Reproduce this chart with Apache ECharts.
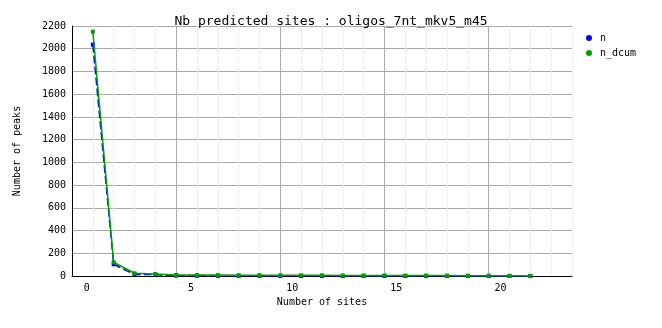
<!DOCTYPE html>
<html>
<head>
<meta charset="utf-8">
<script src="https://cdn.jsdelivr.net/npm/echarts@6/dist/echarts.min.js"></script>
<style>
html,body{margin:0;padding:0;background:#fff;}
#chart{width:662px;height:328px;}
</style>
</head>
<body>
<div id="chart"></div>
<script>
// ---- data ----
const titleText = 'Nb predicted sites : oligos_7nt_mkv5_m45';
const sites = [0, 1, 2, 3, 4, 5, 6, 7, 8, 9, 10, 11, 12, 13, 14, 15, 16, 17, 18, 19, 20, 21];
const nValues = [2036, 103, 14, 12, 3, 2, 1, 1, 1, 0, 0, 0, 0, 0, 0, 0, 0, 0, 0, 0, 0, 0];
const nDcumValues = [2150, 121, 24, 18, 9, 8, 8, 7, 7, 6, 6, 6, 5, 5, 5, 4, 4, 4, 3, 3, 2, 1];
const xTickLabels = [0, 5, 10, 15, 20];
const yTickLabels = [0, 200, 400, 600, 800, 1000, 1200, 1400, 1600, 1800, 2000, 2200];

const FONT = 'DejaVu Sans Mono';
const chart = echarts.init(document.getElementById('chart'), null, {renderer: 'canvas'});

function pairs(xs, ys) { return xs.map((x, i) => [x, ys[i]]); }

chart.setOption({
  animation: false,
  backgroundColor: '#ffffff',
  textStyle: {fontFamily: FONT},
  title: {
    text: titleText,
    left: 'center',
    top: 10,
    textStyle: {fontFamily: FONT, fontSize: 13, fontWeight: 'normal', color: '#000'}
  },
  legend: {
    orient: 'vertical',
    left: 581,
    top: 28,
    icon: 'circle',
    itemWidth: 6,
    itemHeight: 6,
    itemGap: 5,
    textStyle: {fontFamily: FONT, fontSize: 10, color: '#000', padding: [0, 0, 0, 3]},
    data: ['n', 'n_dcum']
  },
  grid: {left: 72, right: 90, top: 26, bottom: 52, containLabel: false},
  xAxis: [
    {
      type: 'value',
      min: -1,
      max: 23,
      interval: 1,
      name: 'Number of sites',
      nameLocation: 'middle',
      nameGap: 21,
      nameTextStyle: {fontFamily: FONT, fontSize: 10, color: '#000'},
      axisLine: {show: true, onZero: false, lineStyle: {color: '#000', width: 1}},
      axisTick: {show: false},
      axisLabel: {
        customValues: xTickLabels,
        align: 'right',
        margin: 7,
        padding: [0, 3, 0, 0],
        fontFamily: FONT, fontSize: 10, color: '#000'
      },
      splitLine: {show: true, lineStyle: {color: '#efefef', width: 1}}
    },
    {
      type: 'value',
      min: 0,
      max: 24,
      interval: 5,
      position: 'bottom',
      axisLine: {show: false},
      axisTick: {show: false},
      axisLabel: {show: false},
      splitLine: {show: true, showMinLine: false, showMaxLine: false, lineStyle: {color: '#aaaaaa', width: 1}}
    }
  ],
  yAxis: {
    type: 'value',
    min: 0,
    max: 2200,
    interval: 200,
    name: 'Number of peaks',
    nameLocation: 'middle',
    nameGap: 50,
    nameTextStyle: {fontFamily: FONT, fontSize: 10, color: '#000'},
    axisLine: {show: true, onZero: false, lineStyle: {color: '#000', width: 1}},
    axisTick: {show: false},
    axisLabel: {
      margin: 6,
      fontFamily: FONT, fontSize: 10, color: '#000',
      formatter: v => (yTickLabels.indexOf(v) >= 0 ? String(v) : '')
    },
    splitLine: {show: true, lineStyle: {color: '#aaaaaa', width: 1}}
  },
  series: [
    {
      name: 'n',
      type: 'line',
      xAxisIndex: 0,
      data: pairs(sites, nValues),
      symbol: 'rect',
      symbolSize: 4,
      itemStyle: {color: '#0000ff'},
      lineStyle: {color: '#0000ff', width: 1.5, type: [8, 3]},
      z: 3
    },
    {
      name: 'n_dcum',
      type: 'line',
      xAxisIndex: 0,
      data: pairs(sites, nDcumValues),
      symbol: 'rect',
      symbolSize: 4,
      itemStyle: {color: '#00a000'},
      lineStyle: {color: '#00a000', width: 1.5},
      z: 4
    }
  ]
});
</script>
</body>
</html>
